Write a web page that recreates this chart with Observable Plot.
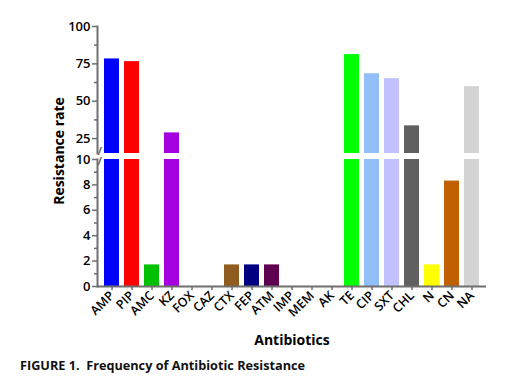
<!DOCTYPE html>
<html><head><meta charset="utf-8">
<script src="https://cdn.jsdelivr.net/npm/d3@7"></script>
<script src="https://cdn.jsdelivr.net/npm/@observablehq/plot@0.6"></script>
<style>
body{margin:0;background:#fff;font-family:"Open Sans",sans-serif;}
#chart svg{display:block;}
#cap{font:700 12.7px "Open Sans",sans-serif;white-space:pre;padding-left:20px;padding-top:2px;height:26px;line-height:26px;color:#111;}
</style></head><body>
<div id="chart"></div>
<div id="cap">FIGURE 1.  Frequency of Antibiotic Resistance</div>
<script>
const antibiotics = ["AMP","PIP","AMC","KZ","FOX","CAZ","CTX","FEP","ATM","IMP","MEM","AK","TE","CIP","SXT","CHL","N","CN","NA"];
const resistance = [78.3, 76.5, 1.7, 28.8, 0, 0, 1.7, 1.7, 1.7, 0, 0, 0, 81.2, 68.4, 65.1, 33.5, 1.7, 8.3, 59.7];
const barColors = ["#0000FF","#FF0000","#00C000","#A400E0","#999999","#999999","#8E5C1F","#000080","#600050","#999999","#999999","#999999","#00FF00","#92BFF8","#C2C0FF","#606060","#FFFF00","#C06000","#D3D3D3"];
const upperTicks = [25, 50, 75, 100];
const upperMinor = [37.5, 62.5, 87.5];
const lowerTicks = [0, 2, 4, 6, 8, 10];
const lowerMinor = [1, 3, 5, 7, 9];
const breakLow = 10, breakHigh = 15, yMax = 100;

const data = antibiotics.map((name, i) => ({name, value: resistance[i]}));
const axisColor = "#6e6e6e";
const font = "'Open Sans', sans-serif";
const xOpts = {domain: antibiotics, paddingInner: 0.25, paddingOuter: 0.35};
const colorOpts = {domain: antibiotics, range: barColors};

const upper = Plot.plot({
  width: 507, height: 153,
  marginTop: 26, marginLeft: 97, marginRight: 21, marginBottom: 0,
  style: {fontFamily: font, fontSize: "13px", color: "#000", background: "transparent", overflow: "visible"},
  x: xOpts, y: {domain: [breakHigh, yMax]}, color: colorOpts,
  marks: [
    Plot.barY(data, {x: "name", y: "value", fill: "name", clip: true}),
    Plot.frame({anchor: "left", stroke: axisColor, strokeWidth: 2}),
    Plot.axisY({ticks: upperTicks, tickSize: 5, tickPadding: 2, stroke: axisColor, strokeWidth: 1.5, fill: "#000", fontSize: 13, fontWeight: 600, label: null}),
    Plot.axisY({ticks: upperMinor, tickSize: 3, stroke: axisColor, strokeWidth: 1.5, fill: "none", label: null}),
    Plot.axisX({ticks: [], label: null}),
    Plot.text([breakHigh], {y: d => d, text: () => "/", frameAnchor: "left", dy: -2, fill: axisColor, fontSize: 11, fontWeight: 700})
  ]
});

const lower = Plot.plot({
  width: 507, height: 197,
  marginTop: 6, marginLeft: 97, marginRight: 21, marginBottom: 64,
  style: {fontFamily: font, fontSize: "13px", color: "#000", background: "transparent", overflow: "visible"},
  x: xOpts, y: {domain: [0, breakLow]}, color: colorOpts,
  marks: [
    Plot.barY(data, {x: "name", y: "value", fill: "name", clip: true}),
    Plot.frame({anchor: "left", stroke: axisColor, strokeWidth: 2}),
    Plot.ruleY([0], {stroke: axisColor, strokeWidth: 2}),
    Plot.axisY({ticks: lowerTicks, tickSize: 5, tickPadding: 2, stroke: axisColor, strokeWidth: 1.5, fill: "#000", fontSize: 13, fontWeight: 600, label: null}),
    Plot.axisY({ticks: lowerMinor, tickSize: 3, stroke: axisColor, strokeWidth: 1.5, fill: "none", label: null}),
    Plot.axisX({tickSize: 4, tickPadding: 3, tickRotate: -45, stroke: axisColor, strokeWidth: 1.5, fill: "#000", fontSize: 12.5, fontWeight: 600, label: null}),
    Plot.text([breakLow], {y: d => d, text: () => "/", frameAnchor: "left", dy: 2, fill: axisColor, fontSize: 11, fontWeight: 700}),
    Plot.text(["Resistance rate"], {text: d => d, frameAnchor: "left", textAnchor: "middle", rotate: -90, dx: -38, dy: -72, fontSize: 14, fontWeight: 700, fill: "#000"}),
    Plot.text(["Antibiotics"], {text: d => d, frameAnchor: "bottom", dy: 58, fontSize: 14, fontWeight: 700, fill: "#000"})
  ]
});
const host = document.getElementById("chart");
host.appendChild(upper);
host.appendChild(lower);
</script>
</body></html>
